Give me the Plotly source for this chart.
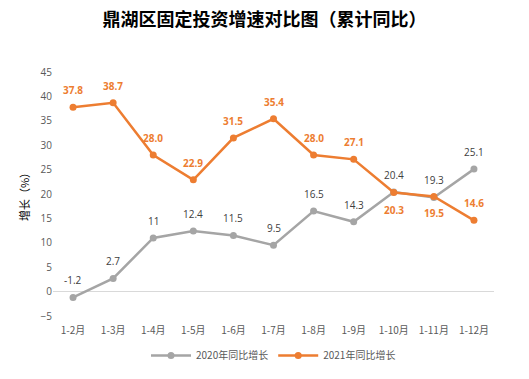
import plotly.graph_objects as go

categories = ["1-2月", "1-3月", "1-4月", "1-5月", "1-6月", "1-7月", "1-8月", "1-9月", "1-10月", "1-11月", "1-12月"]
growth_2020 = [-1.2, 2.7, 11, 12.4, 11.5, 9.5, 16.5, 14.3, 20.4, 19.3, 25.1]
labels_2020 = ["-1.2", "2.7", "11", "12.4", "11.5", "9.5", "16.5", "14.3", "20.4", "19.3", "25.1"]
growth_2021 = [37.8, 38.7, 28.0, 22.9, 31.5, 35.4, 28.0, 27.1, 20.3, 19.5, 14.6]
labels_2021 = ["37.8", "38.7", "28.0", "22.9", "31.5", "35.4", "28.0", "27.1", "20.3", "19.5", "14.6"]
below_2021 = [False, False, False, False, False, False, False, False, True, True, False]
y_ticks = [-5, 0, 5, 10, 15, 20, 25, 30, 35, 40, 45]

GRAY = "#A5A5A5"
ORANGE = "#ED7D31"
NUMFONT = "Open Sans, Liberation Sans, sans-serif"
CJK = "Noto Sans CJK SC"

fig = go.Figure()
fig.add_trace(go.Scatter(
    x=categories, y=growth_2020, mode="lines+markers", name="2020年同比增长",
    line=dict(color=GRAY, width=2.5), marker=dict(color=GRAY, size=7),
))
fig.add_trace(go.Scatter(
    x=categories, y=growth_2021, mode="lines+markers", name="2021年同比增长",
    line=dict(color=ORANGE, width=2.5), marker=dict(color=ORANGE, size=7),
))

annotations = []
for c, v, t in zip(categories, growth_2020, labels_2020):
    annotations.append(dict(x=c, y=v, text=t, showarrow=False, yshift=17,
                            font=dict(family=NUMFONT, size=10, color="#404040")))
for c, v, t, b in zip(categories, growth_2021, labels_2021, below_2021):
    annotations.append(dict(x=c, y=v, text="<b>" + t + "</b>", showarrow=False,
                            yshift=-17 if b else 17,
                            font=dict(family=NUMFONT, size=10, color=ORANGE)))

fig.update_layout(
    width=529, height=379,
    margin=dict(l=53, r=35, t=72, b=63),
    paper_bgcolor="white", plot_bgcolor="white",
    title=dict(text="<b>鼎湖区固定投资增速对比图（累计同比）</b>", x=0.5, xanchor="center",
               y=0.947, yanchor="middle",
               font=dict(family=CJK, size=18, color="#000000")),
    showlegend=True,
    legend=dict(orientation="h", x=0.5, xanchor="center",
                yref="container", y=0.062, yanchor="middle",
                font=dict(family=CJK, size=10, color="#595959"), itemwidth=40),
    xaxis=dict(type="category", range=[-0.5, len(categories) - 0.5],
               showgrid=False, showline=False, zeroline=False,
               automargin=False, ticklabelstandoff=7,
               ticks="", tickfont=dict(family=CJK, size=10, color="#595959")),
    yaxis=dict(range=[-5, 45], tickvals=y_ticks, showgrid=False, showline=False,
               zeroline=True, zerolinecolor="#D9D9D9", zerolinewidth=1,
               automargin=False,
               ticks="", tickfont=dict(family=NUMFONT, size=10, color="#595959"),
               title=dict(text="增长（%）", font=dict(family=CJK, size=11, color="#000000"),
                          standoff=8)),
    annotations=annotations,
)

fig.write_html("out.html", config={"displayModeBar": False},
               post_script="document.body.style.margin='0';")
